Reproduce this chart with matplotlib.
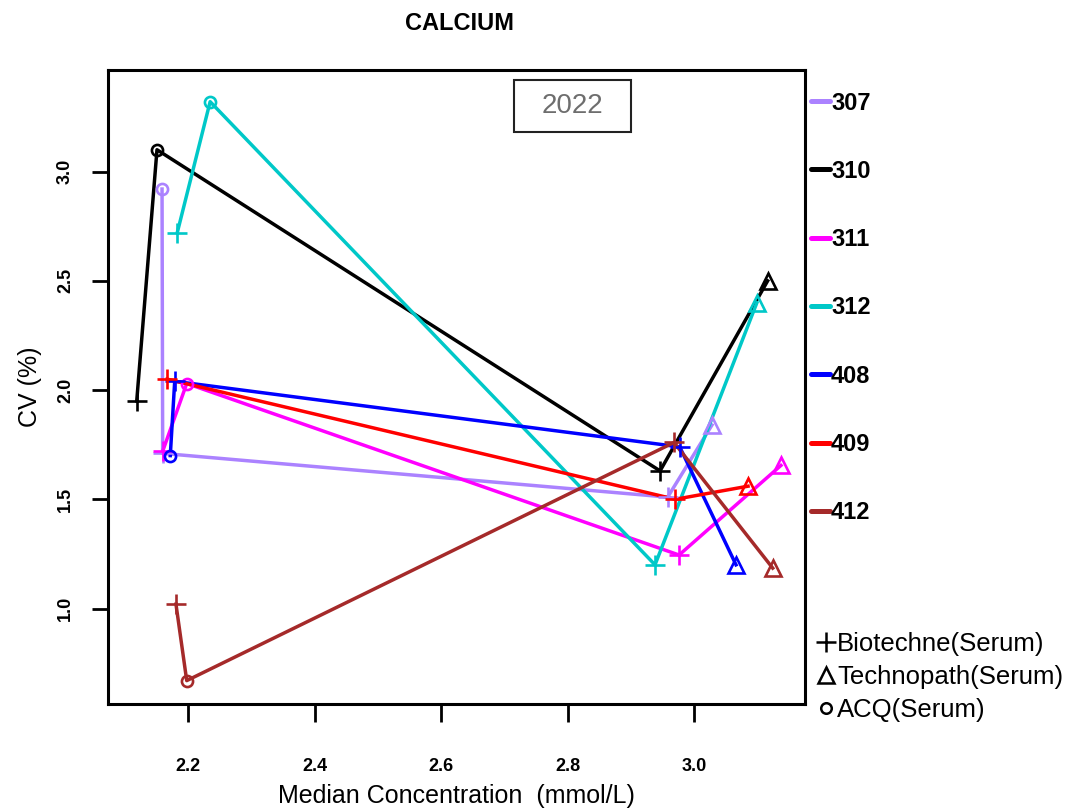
import matplotlib
matplotlib.use("Agg")
from matplotlib import pyplot as plt
from matplotlib.lines import Line2D
from matplotlib.patches import Rectangle

plt.rcParams['font.family'] = ['Liberation Sans', 'DejaVu Sans']

# lab codes and their colours
labs = ['307', '310', '311', '312', '408', '409', '412']
lab_colors = ['#AB82FF', '#000000', '#FF00FF', '#00C8C8', '#0000FF', '#FF0000', '#A52A2A']

# material of each point: B = Biotechne, T = Technopath, A = ACQ
median_307 = [2.159, 2.160, 2.958, 3.028]
cv_307 = [2.92, 1.71, 1.51, 1.84]
mat_307 = ['A', 'B', 'B', 'T']

median_310 = [2.119, 2.151, 2.946, 3.116]
cv_310 = [1.95, 3.10, 1.63, 2.50]
mat_310 = ['B', 'A', 'B', 'T']

median_311 = [2.160, 2.198, 2.976, 3.137]
cv_311 = [1.72, 2.03, 1.245, 1.655]
mat_311 = ['B', 'A', 'B', 'T']

median_312 = [2.183, 2.235, 2.938, 3.099]
cv_312 = [2.72, 3.32, 1.20, 2.40]
mat_312 = ['B', 'A', 'B', 'T']

median_408 = [2.172, 2.179, 2.977, 3.066]
cv_408 = [1.70, 2.04, 1.74, 1.20]
mat_408 = ['A', 'B', 'B', 'T']

median_409 = [2.167, 2.970, 3.085]
cv_409 = [2.05, 1.50, 1.56]
mat_409 = ['B', 'B', 'T']

median_412 = [2.181, 2.198, 2.968, 3.124]
cv_412 = [1.02, 0.67, 1.76, 1.185]
mat_412 = ['B', 'A', 'B', 'T']

medians = [median_307, median_310, median_311, median_312, median_408, median_409, median_412]
cvs = [cv_307, cv_310, cv_311, cv_312, cv_408, cv_409, cv_412]
mats = [mat_307, mat_310, mat_311, mat_312, mat_408, mat_409, mat_412]

material_keys = ['B', 'T', 'A']
material_names = ['Biotechne(Serum)', 'Technopath(Serum)', 'ACQ(Serum)']
marker_of = {'B': ('+', 15), 'T': ('^', 12), 'A': ('o', 8)}

W, H = 1069, 808
fig = plt.figure(figsize=(W / 100, H / 100), dpi=100)
ax = fig.add_axes([108 / W, 1 - 704 / H, 697 / W, 634 / H])

for lab, col, xs, ys, ms in zip(labs, lab_colors, medians, cvs, mats):
    ax.plot(xs, ys, color=col, lw=2.5, zorder=2)
    for x, y, m in zip(xs, ys, ms):
        mk, sz = marker_of[m]
        ax.plot(x, y, marker=mk, markersize=sz, color=col, markerfacecolor='none',
                markeredgewidth=1.9, linestyle='none', zorder=3)

ax.set_xlim(2.0736, 3.175)
ax.set_ylim(0.563, 3.465)
ax.set_xticks([2.2, 2.4, 2.6, 2.8, 3.0])
ax.set_yticks([1.0, 1.5, 2.0, 2.5, 3.0])
ax.set_xticklabels(['2.2', '2.4', '2.6', '2.8', '3.0'], fontweight='bold')
ax.set_yticklabels(['1.0', '1.5', '2.0', '2.5', '3.0'], rotation=90, va='center',
                   fontweight='bold')
ax.tick_params(axis='x', direction='out', length=13, width=2, labelsize=13, pad=26)
ax.tick_params(axis='y', direction='out', length=11.5, width=2, labelsize=13, pad=13)
for sp in ax.spines.values():
    sp.set_linewidth(2.2)

ax.set_xlabel('Median Concentration  (mmol/L)', fontsize=18, labelpad=6)
ax.set_ylabel('CV (%)', fontsize=18, labelpad=11)
fig.text(459 / W, 1 - 23 / H, 'CALCIUM', fontsize=17, fontweight='bold',
         ha='center', va='center')

# year box
ax.add_patch(Rectangle((0.5825, 0.902), 0.168, 0.082, transform=ax.transAxes,
                       facecolor='white', edgecolor='#222222', lw=1.5, zorder=4))
ax.text(0.6665, 0.943, '2022', transform=ax.transAxes, fontsize=20, color='#6E6E6E',
        ha='center', va='center', zorder=5)

# lab legend, outside the plot on the right
for i, (lab, col) in enumerate(zip(labs, lab_colors)):
    py = 101 + i * 68.3
    fig.add_artist(Line2D([811 / W, 830 / W], [1 - py / H, 1 - py / H], color=col,
                          lw=3.6, solid_capstyle='round'))
    fig.text(831 / W, 1 - (py + 2) / H, lab, fontsize=17, fontweight='bold',
             ha='left', va='center')

# material legend
for i, (k, name) in enumerate(zip(material_keys, material_names)):
    py = 642 + i * 33
    mk, sz = marker_of[k]
    fig.add_artist(Line2D([826 / W], [1 - py / H], marker=mk, markersize=sz * 0.95,
                          color='black', markerfacecolor='none', markeredgewidth=1.8,
                          linestyle='none'))
    fig.text(837 / W, 1 - (py + 2) / H, name, fontsize=18.5, ha='left', va='center')

fig.savefig('out.png', dpi=100)
